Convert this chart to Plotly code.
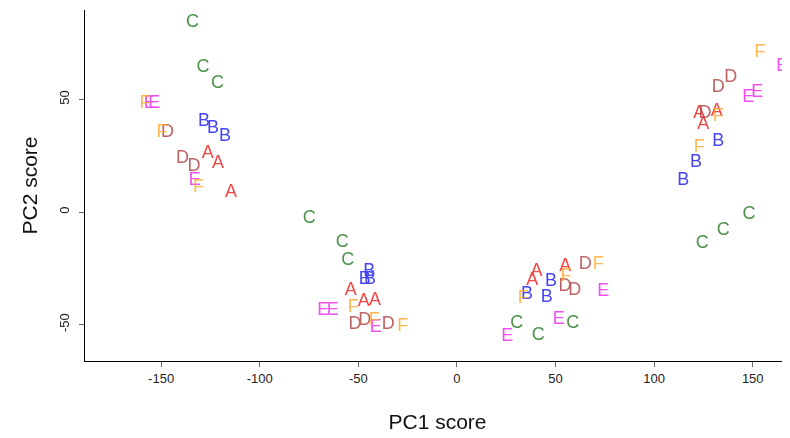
import plotly.graph_objects as go

labels = ["A", "B", "C", "D", "E", "F"]
colors = {"A": "#f02424", "B": "#2424f0", "C": "#2b7d2b", "D": "#b04848", "E": "#f030f0", "F": "#ffaa30"}

pc1_A = [-126.3, -121.2, -114.6, -53.8, -47.2, -41.6, 40.4, 38.2, 54.9, 122.9, 131.7, 124.9]
pc2_A = [26.2, 21.5, 8.7, -34.7, -39.9, -39.1, -26.5, -30.5, -24.3, 43.9, 44.9, 39.0]
pc1_B = [-128.3, -123.7, -117.6, -44.5, -46.7, -44.1, 47.7, 35.6, 45.5, 132.5, 121.2, 114.8]
pc2_B = [40.4, 37.3, 33.6, -26.5, -29.9, -29.9, -31.0, -36.6, -38.1, 31.2, 22.1, 13.9]
pc1_C = [-134.1, -128.8, -121.4, -74.9, -58.2, -55.4, 30.3, 58.7, 41.2, 148.1, 135.1, 124.4]
pc2_C = [84.1, 64.1, 57.2, -2.8, -13.6, -21.6, -49.5, -49.5, -54.7, -1.3, -8.0, -13.9]
pc1_D = [-146.8, -139.1, -133.3, -51.7, -46.7, -34.8, 65.1, 54.8, 59.8, 138.8, 132.5, 125.8]
pc2_D = [35.4, 23.8, 20.4, -49.8, -48.3, -49.8, -23.1, -33.2, -34.7, 59.7, 55.2, 43.9]
pc1_E = [-155.8, -153.5, -132.9, -67.8, -63.0, -41.1, 74.2, 51.7, 25.5, 165.0, 152.3, 147.7]
pc2_E = [48.3, 48.3, 14.0, -43.9, -43.9, -51.4, -35.1, -47.7, -55.4, 64.6, 53.2, 50.8]
pc1_F = [-158.2, -149.6, -131.1, -52.6, -41.9, -27.5, 55.3, 71.7, 33.6, 153.7, 132.5, 122.9]
pc2_F = [48.3, 35.4, 11.1, -42.5, -48.0, -51.0, -28.7, -23.1, -38.4, 70.8, 42.4, 28.8]

data = {
    "A": (pc1_A, pc2_A), "B": (pc1_B, pc2_B), "C": (pc1_C, pc2_C),
    "D": (pc1_D, pc2_D), "E": (pc1_E, pc2_E), "F": (pc1_F, pc2_F),
}

x_ticks = [-150, -100, -50, 0, 50, 100, 150]
x_tick_labels = ["-150", "-100", "-50", "0", "50", "100", "150"]
y_ticks = [-50, 0, 50]
y_tick_labels = ["-50", "0", "50"]

FONT = "Liberation Sans, Arial, sans-serif"

fig = go.Figure()
for lab in labels:
    xs, ys = data[lab]
    fig.add_trace(go.Scatter(
        x=xs, y=ys, mode="text", text=[lab] * len(xs),
        textposition="middle center",
        textfont=dict(family=FONT, size=18, color=colors[lab]),
        opacity=0.85, showlegend=False, hoverinfo="skip", cliponaxis=False,
    ))

axis_common = dict(
    showline=True, linecolor="black", linewidth=1, mirror=False,
    showgrid=False, zeroline=False, ticks="outside", ticklen=5,
    tickcolor="#666666", tickwidth=1, automargin=False,
    tickfont=dict(family=FONT, size=13, color="#222222"),
)

fig.update_layout(
    width=782, height=430,
    margin=dict(l=77, r=0, t=2, b=77),
    plot_bgcolor="white", paper_bgcolor="white",
    xaxis=dict(range=[-188.6, 168.9], tickvals=x_ticks, ticktext=x_tick_labels,
               title=dict(text="PC1 score", standoff=29,
                          font=dict(family=FONT, size=21, color="#111111")),
               **axis_common),
    yaxis=dict(range=[-66.2, 89.8], tickvals=y_ticks, ticktext=y_tick_labels, tickangle=-90,
               ticklabelstandoff=5,
               title=dict(text="PC2 score", standoff=13,
                          font=dict(family=FONT, size=21, color="#111111")),
               **axis_common),
)

fig.write_html("out.html")
